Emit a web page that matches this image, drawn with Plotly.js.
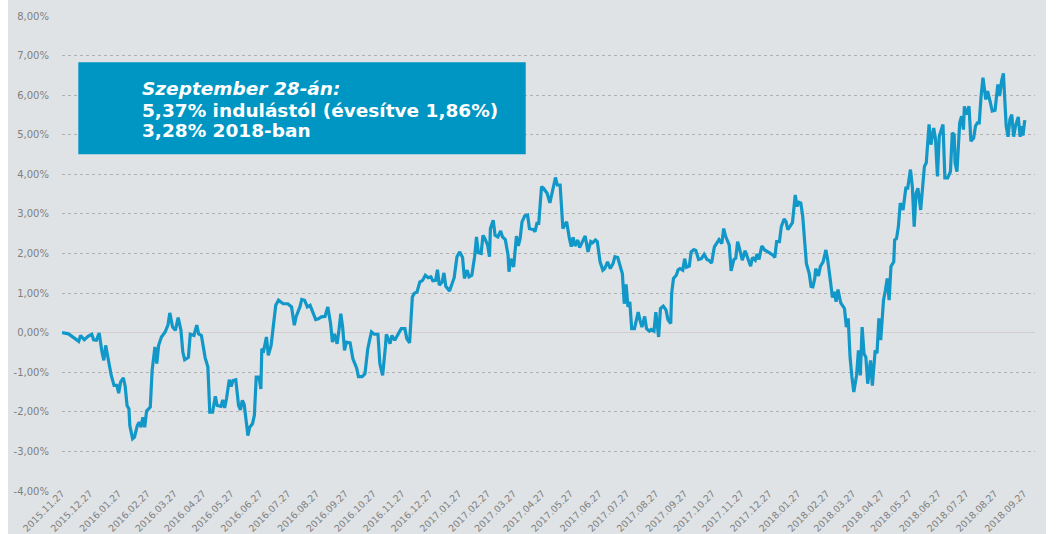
<!DOCTYPE html>
<html>
<head>
<meta charset="utf-8">
<script src="https://cdn.plot.ly/plotly-3.0.1.min.js"></script>
<style>
html,body{margin:0;padding:0;background:#ffffff;}
#chart{width:1059px;height:534px;}
</style>
</head>
<body>
<div id="chart"></div>
<script>
// Launch date of the series (day 0)
const START_DATE = '2015-11-27';

// Calendar days since launch for each reading
const dayOffset = [
  0,7,18,20,24,28,32,34,37,40,
  43,45,47,50,53,56,59,61,63,66,
  68,70,72,73,76,78,81,83,85,87,
  89,91,95,97,100,102,104,107,111,114,
  116,119,122,125,128,130,132,136,138,142,
  145,147,150,154,157,159,162,165,167,171,
  173,175,177,180,182,184,187,190,192,194,
  196,199,200,202,205,207,209,212,214,215,
  217,220,222,225,228,230,233,238,243,247,
  250,252,256,258,261,264,267,270,273,276,
  279,283,286,289,291,293,296,298,300,302,
  304,306,310,313,317,319,323,326,329,331,
  333,336,340,342,345,348,349,353,355,
  358,361,365,369,371,374,377,379,382,385,
  388,391,394,397,399,402,404,406,409,411,
  413,417,420,422,425,428,431,433,436,438,
  441,444,446,448,451,453,455,458,460,461,
  464,466,469,472,474,477,480,481,483,486,
  489,491,493,495,498,501,503,507,509,511,
  513,516,518,522,525,527,529,531,533,536,
  539,541,543,546,548,550,552,555,557,560,
  563,566,569,571,574,576,579,582,584,587,
  590,593,595,598,601,603,605,607,609,611,
  613,616,618,620,622,624,627,629,632,634,
  637,639,642,644,647,650,652,655,656,658,
  661,663,665,668,670,672,675,677,680,682,
  685,688,691,694,696,699,702,705,707,710,
  712,714,
  718,720,723,725,727,729,732,735,738,741,
  743,746,748,750,753,756,761,765,767,769,
  772,774,777,779,781,784,786,789,791,793,
  795,797,799,801,804,806,808,810,811,814,
  816,819,822,824,827,829,831,833,835,838,
  842,844,846,848,850,852,855,857,859,861,
  863,865,867,870,872,875,877,879,881,884,
  886,888,890,892,895,896,898,900,902,905,
  908,910,913,915,917,919,921,924,926,928,
  930,933,935,938,940,942,944,948,950,953,
  956,958,960,961,963,966,968,970,971,973,
  976,978,981,983,985,987,989,991,994,996,
  999,1001,1004,1006,1007,1009,1011,1013,1014,1016,
  1018,1020,1022,1024,1026,1029,1031,1033,1034,1036
];

// Cumulative return since launch, in percent
const returnPct = [
  0.00,-0.03,-0.22,-0.07,-0.18,-0.09,-0.04,-0.18,-0.19,-0.01,
  -0.49,-0.70,-0.32,-0.70,-1.08,-1.33,-1.33,-1.53,-1.25,-1.14,
  -1.36,-1.84,-1.92,-2.35,-2.68,-2.64,-2.35,-2.26,-2.39,-2.14,
  -2.39,-1.98,-1.88,-0.95,-0.36,-0.78,-0.32,-0.11,0.02,0.19,
  0.50,0.14,0.06,0.38,0.06,-0.49,-0.68,-0.62,-0.04,-0.07,
  0.19,-0.03,-0.07,-0.63,-0.87,-2.01,-2.01,-1.61,-1.84,-1.86,
  -1.70,-1.90,-1.67,-1.19,-1.36,-1.21,-1.19,-1.84,-1.95,-1.71,
  -1.81,-2.39,-2.60,-2.39,-2.30,-2.09,-1.12,-1.12,-1.42,-0.41,
  -0.45,-0.11,-0.57,-0.32,0.35,0.69,0.82,0.73,0.73,0.65,
  0.19,0.41,0.65,0.84,0.82,0.65,0.69,0.52,0.33,0.35,
  0.40,0.41,0.65,0.23,-0.24,-0.03,-0.28,0.06,0.48,0.14,
  -0.45,-0.24,-0.26,-0.66,-0.89,-1.11,-1.11,-1.04,-0.41,-0.19,
  0.02,-0.04,-0.04,-0.78,-1.08,-0.36,-0.04,-0.28,-0.07,
  -0.19,-0.07,0.10,0.10,-0.15,-0.26,0.90,0.99,1.03,1.28,
  1.32,1.45,1.39,1.41,1.31,1.32,1.59,1.20,1.28,1.51,
  1.17,1.05,1.28,1.39,1.92,2.04,1.90,1.37,1.58,1.41,
  1.45,1.92,2.42,2.02,2.00,2.46,2.38,2.21,1.92,2.63,
  2.84,2.46,2.42,2.57,2.42,2.35,1.96,1.54,1.87,1.66,
  2.44,2.19,2.38,2.80,2.95,2.97,2.63,2.61,2.55,2.76,
  2.76,3.69,3.65,3.52,3.28,3.52,3.73,3.92,3.73,3.73,
  2.63,2.72,2.80,2.38,2.17,2.41,2.19,2.34,2.15,2.30,
  2.44,2.04,2.30,2.27,2.34,2.30,1.79,1.58,1.62,1.79,
  1.62,1.75,1.92,1.90,1.68,1.49,0.73,1.22,0.65,0.78,
  0.10,0.10,0.31,0.52,0.31,0.14,0.41,0.10,0.04,0.08,
  0.04,0.52,-0.11,0.61,0.67,0.57,0.33,0.23,0.99,1.37,
  1.45,1.59,1.62,1.58,1.87,1.65,1.68,2.04,2.10,2.08,
  1.85,1.87,1.98,1.85,1.83,1.76,2.17,2.30,2.35,2.25,
  2.63,2.44,
  2.21,1.56,1.85,1.88,2.30,2.13,1.83,2.07,1.85,1.68,
  1.90,1.83,1.99,1.85,2.19,2.09,2.02,1.96,1.90,2.30,
  2.30,2.68,2.87,2.81,2.60,2.72,2.78,3.48,3.19,3.29,
  3.27,2.95,2.43,1.75,1.50,1.17,1.16,1.37,1.62,1.43,
  1.67,1.79,2.09,1.83,1.28,0.89,1.03,0.78,1.09,0.75,
  0.61,0.14,0.36,-0.62,-1.12,-1.50,-1.08,-0.45,-1.08,0.14,
  -0.53,-0.62,-1.29,-0.70,-1.34,-0.45,-0.52,0.36,-0.19,0.82,
  1.07,1.37,0.82,1.67,1.79,2.34,2.38,2.68,3.27,3.10,
  3.65,3.65,4.12,3.69,2.68,3.52,3.65,3.10,3.65,4.20,
  4.29,5.26,4.75,5.17,4.88,3.95,4.96,5.26,3.91,3.91,
  4.07,5.05,5.00,4.29,4.07,5.30,5.47,5.13,5.72,5.51,
  5.72,4.84,4.92,5.22,5.30,5.30,5.98,6.44,5.89,6.10,
  5.81,5.60,5.62,6.06,6.27,5.98,6.36,6.55,6.15,5.22,
  4.95,5.39,5.51,4.95,5.22,5.45,4.95,5.22,4.98,5.37
];

// X-axis tick labels (monthly)
const xTickLabels = [
  '2015.11.27','2015.12.27',
  '2016.01.27','2016.02.27','2016.03.27','2016.04.27','2016.05.27','2016.06.27',
  '2016.07.27','2016.08.27','2016.09.27','2016.10.27','2016.11.27','2016.12.27',
  '2017.01.27','2017.02.27','2017.03.27','2017.04.27','2017.05.27','2017.06.27',
  '2017.07.27','2017.08.27','2017.09.27','2017.10.27','2017.11.27','2017.12.27',
  '2018.01.27','2018.02.27','2018.03.27','2018.04.27','2018.05.27','2018.06.27',
  '2018.07.27','2018.08.27','2018.09.27'
];

// Y-axis ticks
const yTickValues = [-4,-3,-2,-1,0,1,2,3,4,5,6,7,8];
const yTickLabels = ['-4,00%','-3,00%','-2,00%','-1,00%','0,00%','1,00%','2,00%',
                     '3,00%','4,00%','5,00%','6,00%','7,00%','8,00%'];

// Text of the highlighted box
const boxLines = ['Szeptember 28-án:', '5,37% indulástól (évesítve 1,86%)', '3,28% 2018-ban'];

const t0 = Date.parse(START_DATE + 'T00:00:00Z');
const dates = dayOffset.map(d => new Date(t0 + d * 86400000).toISOString().slice(0, 10));
const xTickVals = xTickLabels.map(s => s.replace(/\./g, '-'));

const trace = {
  type: 'scatter',
  mode: 'lines',
  x: dates,
  y: returnPct,
  line: {color: '#1198c8', width: 3.2},
  hoverinfo: 'skip'
};

const boxFont = {family: 'DejaVu Sans', size: 18.5, color: '#ffffff', weight: 'bold'};
const lineY = [0.8484, 0.8021, 0.7600];

const layout = {
  width: 1059,
  height: 534,
  margin: {l: 62, r: 24, t: 16, b: 43, pad: 0},
  paper_bgcolor: '#ffffff',
  plot_bgcolor: 'rgba(0,0,0,0)',
  showlegend: false,
  xaxis: {
    type: 'date',
    range: ['2015-11-27', '2018-10-09'],
    tickmode: 'array',
    tickvals: xTickVals,
    ticktext: xTickLabels,
    tickangle: -45,
    tickfont: {family: 'DejaVu Sans', size: 9.5, color: '#7f7f7f'},
    ticks: '',
    ticklabelstandoff: -6,
    showgrid: false,
    showline: false,
    zeroline: false,
    fixedrange: true
  },
  yaxis: {
    range: [-4, 8],
    tickmode: 'array',
    tickvals: yTickValues,
    ticktext: yTickLabels,
    tickfont: {family: 'DejaVu Sans', size: 10, color: '#7f7f7f'},
    ticks: '',
    ticklabelstandoff: 12,
    showgrid: true,
    gridcolor: '#b0b0b0',
    gridwidth: 1,
    griddash: 'dot',
    zeroline: true,
    zerolinecolor: '#d3cdcd',
    zerolinewidth: 1,
    showline: false,
    fixedrange: true
  },
  shapes: [
    {type: 'rect', xref: 'paper', yref: 'paper', x0: -0.0555, x1: 1.0113, y0: -0.0905, y1: 1.0337,
     fillcolor: '#dfe3e6', line: {width: 0}, layer: 'below'},
    {type: 'rect', xref: 'paper', yref: 'paper', x0: 0.01675, x1: 0.4766, y0: 0.7088, y1: 0.9025,
     fillcolor: '#0096c3', line: {width: 0}, layer: 'above'}
  ],
  annotations: boxLines.map((txt, i) => ({
    xref: 'paper', yref: 'paper', x: 0.0800, y: lineY[i],
    xanchor: 'left', yanchor: 'middle', showarrow: false,
    text: txt,
    font: Object.assign({}, boxFont, i === 0 ? {style: 'italic'} : {})
  }))
};

Plotly.newPlot('chart', [trace], layout, {displayModeBar: false, staticPlot: true});
</script>
</body>
</html>
